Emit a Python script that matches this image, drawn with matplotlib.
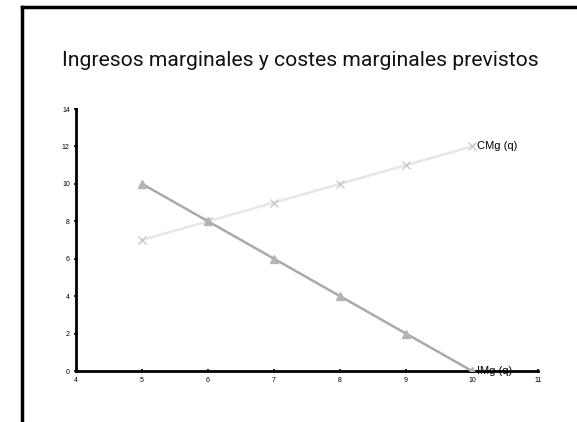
import matplotlib.pyplot as plt
import numpy as np

q = [5, 6, 7, 8, 9, 10]
img = [10, 8, 6, 4, 2, 0]
cmg = [7, 8, 9, 10, 11, 12]

plt.rcParams['font.family'] = ['Liberation Sans', 'DejaVu Sans']

fig = plt.figure(figsize=(5.77, 4.22), dpi=100)

# black frame around the slide-like area (left and top visible)
fig.add_artist(plt.Line2D([22 / 577, 22 / 577], [0, 1 - 7 / 422], color='black', lw=2.5,
                          transform=fig.transFigure))
fig.add_artist(plt.Line2D([22 / 577, 1], [1 - 7 / 422, 1 - 7 / 422], color='black', lw=2.5,
                          transform=fig.transFigure))

fig.text(62 / 577, 1 - 61 / 422, 'Ingresos marginales y costes marginales previstos',
         fontsize=15.2, family=['Roboto', 'DejaVu Sans'], color='#111111',
         va='center', ha='left')

ax = fig.add_axes([76 / 577, 1 - 371 / 422, (538 - 76) / 577, (371 - 109) / 422])

ax.plot(q, cmg, color='#e6e6e6', lw=1.8, marker='x', markersize=6,
        markeredgecolor='#c8c8c8', markeredgewidth=1, zorder=2)
ax.plot(q, img, color='#aaaaaa', lw=1.8, marker='^', markersize=6,
        markerfacecolor='#b4b4b4', markeredgecolor='#b4b4b4', zorder=3)

ax.text(q[-1] + 0.08, cmg[-1], 'CMg (q)', fontsize=8, va='center', ha='left')
ax.text(q[-1] + 0.08, img[-1], 'IMg (q)', fontsize=8, va='center', ha='left', zorder=5)

ax.set_xlim(4, 11)
ax.set_ylim(0, 14)
ax.set_xticks(np.arange(4, 12, 1))
ax.set_yticks(np.arange(0, 16, 2))
for s in ['top', 'right']:
    ax.spines[s].set_visible(False)
for s in ['left', 'bottom']:
    ax.spines[s].set_linewidth(2)
ax.tick_params(labelsize=5, length=3, width=1.2, direction='inout', pad=3)

fig.savefig('out.png', dpi=100)
